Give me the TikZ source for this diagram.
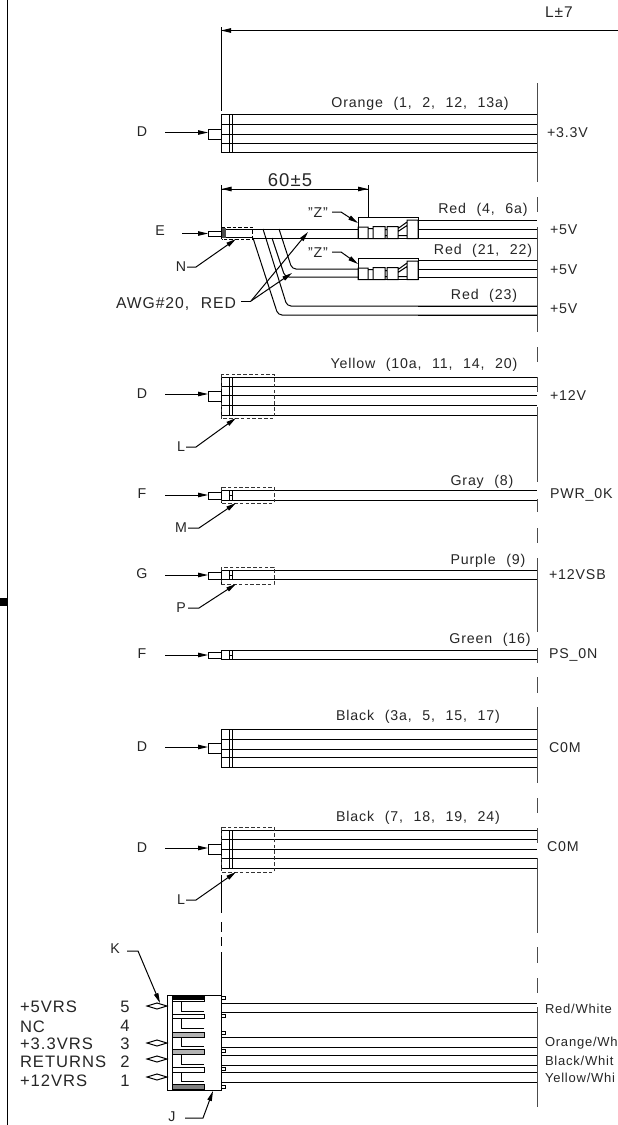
\documentclass[tikz,border=0pt]{standalone}
\usepackage{fontspec}
\setmainfont[LetterSpace=6,WordSpace=2.2]{Liberation Sans}
\usetikzlibrary{arrows.meta}
\tikzset{
  ln/.style={line width=1pt,draw=black,line cap=butt},
  cl/.style={line width=1pt,draw=black!70},
  arr/.style={ln,-{Stealth[length=10pt,width=4.5pt,inset=0pt]}},
  lbl/.style={inner sep=0pt,outer sep=0pt,font=\fontsize{14.2}{16}\selectfont,text=black!85},
  big/.style={lbl,font=\fontsize{16.6}{18}\selectfont},
  wirelbl/.style={lbl,anchor=west,font=\fontsize{13}{15}\selectfont},
  plugbox/.style={ln,draw,fill=white,inner sep=0pt,outer sep=0pt,minimum width=13pt},
  cage/.style={ln,dashed,dash pattern=on 3.6pt off 2.2pt,draw=black!80},
}
\newcommand{\wires}[2]{\foreach \yy in {#2} \draw[ln] (#1,\yy) -- (537,\yy);}
\newcommand{\strip}[2]{\draw[ln] (221,#1) -- (221,#2) (229,#1) -- (229,#2) (232,#1) -- (232,#2);}
% name, letter, y of letter, plug top, plug bottom, y of arrow
\newcommand{\plugin}[6]{%
  \node[lbl] (#1t) at (142,#3) {#2};
  \node[plugbox,minimum height={(#5-#4)*1pt}] (#1p) at (214.5,{(#4+#5)/2}) {};
  \coordinate (#1s) at (165,#6);
  \coordinate (#1e) at (208,#6);
  \draw[arr] (#1s) -- (#1e);}
% name, letter, text y, leader knee x0, x1, tip y
\newcommand{\callout}[6]{%
  \node[lbl] (#1) at (181,#3) {#2};
  \coordinate (#1a) at (#4,#3); \coordinate (#1b) at (#5,#3); \coordinate (#1c) at (236,#6);
  \draw[arr] (#1a) -- (#1b) -- (#1c);}
\newcommand{\fuse}[2]{% name, y of top of the box
  \begin{scope}[shift={(0,#2)}]
    \node[ln,draw,fill=white,inner sep=0pt,outer sep=0pt,minimum width=60pt,minimum height=21pt] (#1) at (388,10.5) {};
    \draw[ln] (358,9.5) rectangle (368,21) (368,11) rectangle (373,21) (373,9) rectangle (385,21)
      (387,9) rectangle (398,21) (407,2.5) rectangle (418,21)
      (385,12) -- (387,12) (385,18) -- (387,18) (398,18) -- (407,18)
      (398,14) -- (407,8) (398,11) -- (407,4.5);
  \end{scope}}
\begin{document}
\begin{tikzpicture}[x=1pt,y=-1pt]
\useasboundingbox (0,0) rectangle (618,1125);
\fill[white] (0,0) rectangle (618,1125);
% sheet border
\draw[ln] (7.3,0) -- (7.3,1125);
\fill[black] (0,598) rectangle (7.3,606);
% centre lines
\foreach \a/\b in {83/182,197/212,227/332,347/362,377/392,407/482,499/512,528/543,558/632,648/663,677/693,707/783,798/813,828/843,858/933,947/963,978/993,1007/1107}
  \draw[cl] (537,\a) -- (537,\b);
\foreach \a/\b in {875/913,922/932,937/946,952/995}
  \draw[ln] (221,\a) -- (221,\b);
% overall dimension
\coordinate (dimR) at (618,30.5);
\coordinate (dimL) at (221,30.5);
\draw[arr] (dimR) -- (dimL);
\draw[ln] (221,27) -- (221,111);
\node[lbl,font=\fontsize{15.5}{17}\selectfont] (dimT) at (559,12) {L±7};
% Orange
\wires{221}{114,124,134,143.5,152.5}
\strip{114}{152.5}
\plugin{d1}{D}{132}{129}{139}{132.5}
\node[lbl] (t1) at (420,104) {Orange (1, 2, 12, 13a)};
\node[lbl,anchor=west] (v1) at (547,133) {+3.3V};
% Red group
\coordinate (d2l) at (221.5,189); \coordinate (d2r) at (368,189);
\draw[arr] (d2r) -- (d2l);
\draw[arr] (d2l) -- (d2r);
\draw[ln] (221.5,185) -- (221.5,229) (368,185) -- (368,230);
\node[big,font=\fontsize{18.5}{20}\selectfont] (d2t) at (290,180) {60±5};
\draw[ln] (252,229) -- (358,229) (252,238) -- (358,238);
\foreach \yy in {220.5,229,238,260,269,277,306,315} \draw[ln] (418,\yy) -- (537,\yy);
\draw[ln,rounded corners=4pt] (253,238) -- (278,315) -- (537,315);
\draw[ln,rounded corners=4pt] (263,229) -- (287,306) -- (537,306);
\draw[ln,rounded corners=4pt] (272,238) -- (285,277) -- (358,277);
\draw[ln,rounded corners=4pt] (279,229) -- (292,269) -- (358,269);
\fuse{fa}{217.5}
\fuse{fb}{258.5}
\node[plugbox,minimum width=13pt,minimum height=5pt] (e1p) at (214.5,233.5) {};
\draw[ln] (221.5,227) -- (221.5,239);
\fill[black!70] (222,228) rectangle (226,238);
\draw[ln,dash pattern=on 3.6pt off 2pt] (221.5,227) -- (252,227) -- (252,239) -- (221.5,239);
\draw[ln] (226,229.5) -- (252,229.5) (226,237) -- (252,237);
\node[lbl] (e1t) at (160,231) {E};
\coordinate (e1s) at (182,233.5); \coordinate (e1e) at (208,233.5);
\draw[arr] (e1s) -- (e1e);
\callout{n1}{N}{267}{187}{196}{239}
\node[lbl] (za) at (318,213) {"Z"};
\node[lbl] (zb) at (318,253) {"Z"};
\coordinate (zaa) at (332,212); \coordinate (zab) at (341,212); \coordinate (zac) at (358,223);
\coordinate (zba) at (332,252); \coordinate (zbb) at (341,252); \coordinate (zbc) at (358,264);
\draw[arr] (zaa) -- (zab) -- (zac);
\draw[arr] (zba) -- (zbb) -- (zbc);
\node[lbl,font=\fontsize{15.7}{17}\selectfont] (awg) at (176,304) {AWG\#20, RED};
\coordinate (awa) at (241,301); \coordinate (awb) at (251,301);
\coordinate (awc) at (308,232); \coordinate (awd) at (292,273);
\draw[ln] (awa) -- (awb);
\draw[arr] (awb) -- (awc);
\draw[arr] (awb) -- (awd);
\node[lbl] (t2a) at (483,210) {Red (4, 6a)};
\node[lbl] (t2b) at (483,251) {Red (21, 22)};
\node[lbl] (t2c) at (484,296) {Red (23)};
\node[lbl,anchor=west] (v2a) at (550,230) {+5V};
\node[lbl,anchor=west] (v2b) at (550,270) {+5V};
\node[lbl,anchor=west] (v2c) at (550,309) {+5V};
% Yellow
\wires{221}{377,386,395.5,405,415}
\strip{377}{415}
\draw[cage] (221,374) rectangle (274,418);
\plugin{d3}{D}{394}{391}{401}{394}
\callout{l3}{L}{447}{186}{196}{418}
\node[lbl] (t3) at (424,365) {Yellow (10a, 11, 14, 20)};
\node[lbl,anchor=west] (v3) at (550,396) {+12V};
% Gray
\wires{221}{490,500}
\draw[ln] (221,490) -- (221,503) (229,490) -- (229,500) (232,490) -- (232,500) (229,495) -- (232,495);
\draw[cage] (221,487) rectangle (274,503);
\plugin{f1}{F}{494}{492}{499}{495}
\callout{m1}{M}{528}{188}{199}{503}
\node[lbl] (t4) at (482,482) {Gray (8)};
\node[lbl,anchor=west] (v4) at (550,495) {PWR\_0K};
% Purple
\wires{221}{570,579.5}
\draw[ln] (221,570) -- (221,584) (229,570) -- (229,579.5) (232,570) -- (232,579.5) (229,575) -- (232,575);
\draw[cage] (221,567) rectangle (274,584);
\plugin{g1}{G}{574}{572}{579}{575}
\callout{p1}{P}{608}{188}{199}{584}
\node[lbl] (t5) at (488,561) {Purple (9)};
\node[lbl,anchor=west] (v5) at (549,575) {+12VSB};
% Green
\wires{221}{650,659.5}
\draw[ln] (221,650) -- (221,659.5) (229,650) -- (229,659.5) (232,650) -- (232,659.5) (229,655) -- (232,655);
\plugin{f2}{F}{654}{652}{658}{655}
\node[lbl] (t6) at (490,640) {Green (16)};
\node[lbl,anchor=west] (v6) at (549,655) {PS\_0N};
% Black 1
\wires{221}{729,739,749,757.5,767}
\strip{729}{767}
\plugin{d7}{D}{747}{743}{753}{747}
\node[lbl] (t7) at (418,717) {Black (3a, 5, 15, 17)};
\node[lbl,anchor=west] (v7) at (549,748) {C0M};
% Black 2
\wires{221}{830,839.5,849,858.5,868}
\strip{830}{868}
\draw[cage] (221,827) rectangle (274,872);
\plugin{d8}{D}{848}{844}{854}{848}
\callout{l8}{L}{900}{186}{196}{872}
\node[lbl] (t8) at (418,818) {Black (7, 18, 19, 24)};
\node[lbl,anchor=west] (v8) at (547,847) {C0M};
% Connector
\node[ln,draw,inner sep=0pt,outer sep=0pt,minimum width=54pt,minimum height=95pt] (conn) at (194.5,1042.5) {};
\draw[ln] (172,995) -- (172,1090);
\fill[black] (173,996) rectangle (204,1000);
\fill[black!50] (173,1084) rectangle (204,1089);
\draw[ln] (172,1001.7) -- (204,1001.7) -- (204,996);
\foreach \a/\b in {1014/1018,1032/1037,1049/1054,1067/1072,1084/1089}
  \draw[ln] (172,\a) rectangle (204,\b);
\draw[ln,fill=black!30] (172,1032) rectangle (204,1037);
\draw[ln,fill=black!30] (172,1049) rectangle (204,1054);
\foreach \a/\b in {1001.7/1011,1018/1028,1037/1046,1054/1064,1072/1081}
  \draw[ln] (204,\b) -- (181,\b) -- (181,\a);
\foreach \yy in {997.7,1015.7,1033,1051,1069,1087}
  \draw[ln] (221.7,\yy-1.5) rectangle (225,\yy+1.5);
\foreach \yy in {1003,1012,1037,1047,1055,1065,1072,1082}
  \draw[ln] (221.7,\yy) -- (537,\yy);
\foreach \yy in {1006,1043,1059,1077}
  \draw[ln] (147,\yy) -- (157,\yy-3) -- (167,\yy) -- (157,\yy+3) -- cycle;
\node[lbl] (kt) at (115,949) {K};
\coordinate (ka) at (127,951); \coordinate (kb) at (138,951); \coordinate (kc) at (160,1003);
\draw[arr] (ka) -- (kb) -- (kc);
\node[lbl] (jt) at (172,1117) {J};
\coordinate (ja) at (185,1118); \coordinate (jb) at (203,1118); \coordinate (jc) at (213,1091);
\draw[arr] (ja) -- (jb) -- (jc);
\node[big,anchor=west] (r5) at (20,1007) {+5VRS};
\node[big,anchor=west] (r4) at (20,1027) {NC};
\node[big,anchor=west] (r3) at (20,1044) {+3.3VRS};
\node[big,anchor=west] (r2) at (20,1062) {RETURNS};
\node[big,anchor=west] (r1) at (20,1081) {+12VRS};
\node[big] (n5) at (125,1007) {5};
\node[big] (n4) at (125,1026) {4};
\node[big] (n3) at (125,1044) {3};
\node[big] (n2) at (125,1062) {2};
\node[big] (n1x) at (125,1081) {1};
\node[wirelbl] (w1) at (545,1009) {Red/White};
\node[wirelbl] (w2) at (545,1043) {Orange/Wh};
\node[wirelbl] (w3) at (545,1061) {Black/Whit};
\node[wirelbl] (w4) at (545,1078) {Yellow/Whi};
\end{tikzpicture}
\end{document}
